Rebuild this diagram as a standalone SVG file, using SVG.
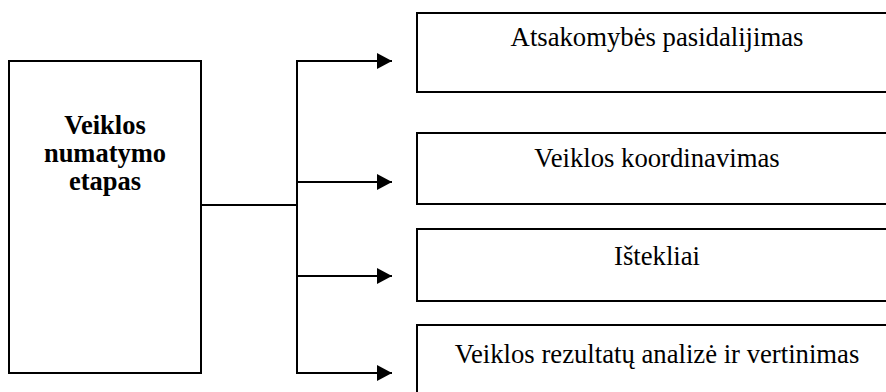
<svg xmlns="http://www.w3.org/2000/svg" width="886" height="392" viewBox="0 0 886 392">
  <style>
    .box { fill: #ffffff; stroke: #000000; stroke-width: 2; }
    .wire { fill: none; stroke: #000000; stroke-width: 2; }
    text { font-family: "Liberation Serif", "Times New Roman", serif; fill: #000000; text-anchor: middle; }
    .lbl { font-size: 26.7px; }
    .head { font-size: 26.5px; font-weight: bold; }
  </style>
  <defs>
    <marker id="arrow" markerUnits="userSpaceOnUse" markerWidth="16" markerHeight="16" refX="15" refY="8" orient="auto">
      <path d="M0,0 L15,8 L0,16 Z" fill="#000000"/>
    </marker>
  </defs>
  <rect width="886" height="392" fill="#ffffff"/>

  <!-- connectors: stem from the main box, vertical trunk, four branches -->
  <g id="connectors">
    <line class="wire" x1="201" y1="205" x2="297" y2="205"/>
    <line class="wire" x1="297" y1="60" x2="297" y2="374"/>
    <line class="wire" x1="297" y1="61" x2="392" y2="61" marker-end="url(#arrow)"/>
    <line class="wire" x1="297" y1="182" x2="392" y2="182" marker-end="url(#arrow)"/>
    <line class="wire" x1="297" y1="276" x2="392" y2="276" marker-end="url(#arrow)"/>
    <line class="wire" x1="297" y1="373" x2="392" y2="373" marker-end="url(#arrow)"/>
  </g>

  <g id="stage">
    <rect class="box" x="9" y="61" width="192" height="312"/>
    <text class="head" x="105" y="134">Veiklos</text>
    <text class="head" x="105" y="162">numatymo</text>
    <text class="head" x="105" y="190">etapas</text>
  </g>

  <g id="responsibility">
    <rect class="box" x="417" y="13" width="480" height="79"/>
    <text class="lbl" x="657" y="46">Atsakomybės pasidalijimas</text>
  </g>

  <g id="coordination">
    <rect class="box" x="417" y="133" width="480" height="71"/>
    <text class="lbl" x="657" y="167">Veiklos koordinavimas</text>
  </g>

  <g id="resources">
    <rect class="box" x="417" y="229" width="480" height="72"/>
    <text class="lbl" x="657" y="265">Ištekliai</text>
  </g>

  <g id="evaluation">
    <rect class="box" x="417" y="325" width="480" height="80"/>
    <text class="lbl" x="657" y="363">Veiklos rezultatų analizė ir vertinimas</text>
  </g>
</svg>
